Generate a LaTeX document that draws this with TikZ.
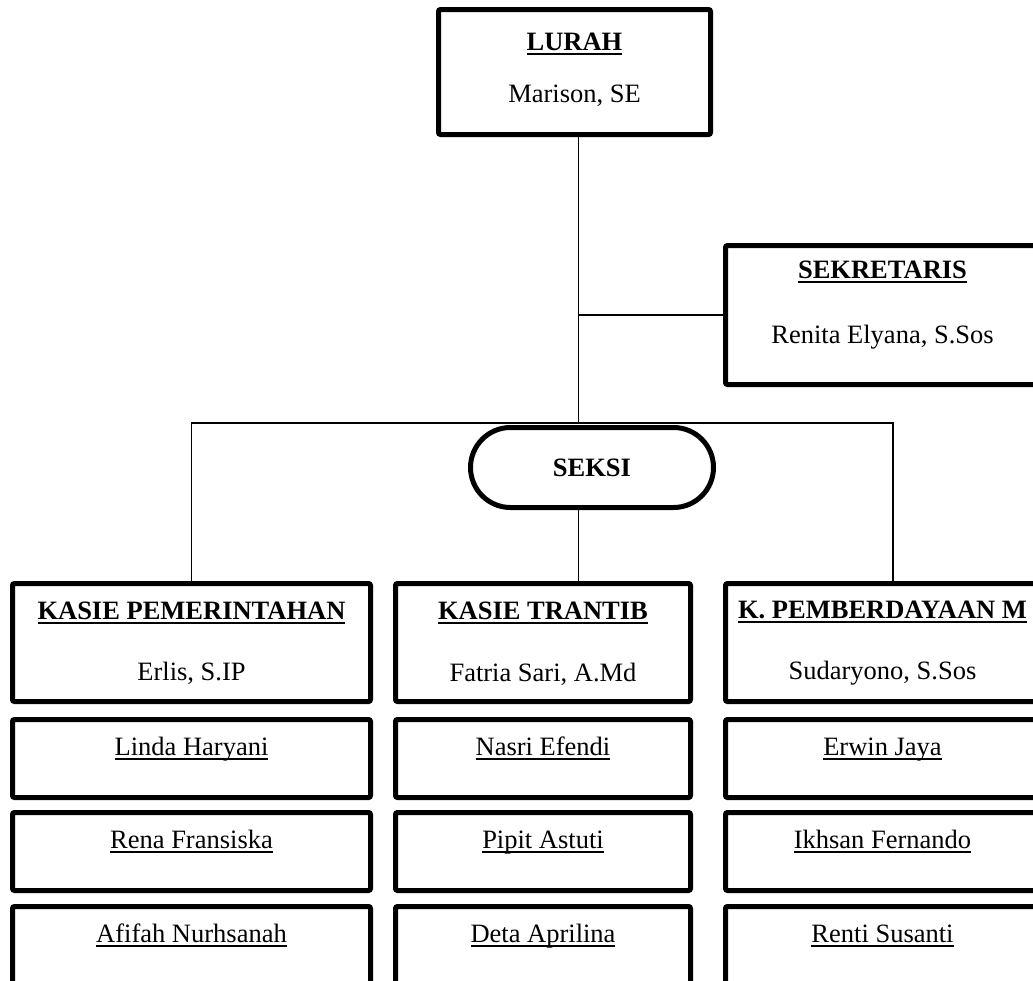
\documentclass[tikz,border=0pt]{standalone}
\usepackage{fontspec}
\setmainfont{Liberation Serif}
\newcommand{\ulined}[1]{\setbox0\hbox{#1}\rlap{\rule[-5pt]{\wd0}{2.5pt}}\box0}
\begin{document}
\begin{tikzpicture}[
  x=1pt, y=-1pt,
  box/.style={draw, line width=5pt, rounded corners=2pt, fill=white, inner sep=0pt},
  pill/.style={draw, line width=5pt, rounded corners=40pt, fill=white, inner sep=0pt, font=\fontsize{26.5}{30}\selectfont\bfseries},
  headtxt/.style={anchor=base, inner sep=0pt, font=\fontsize{26.5}{30}\selectfont\bfseries},
  persontxt/.style={anchor=base, inner sep=0pt, font=\fontsize{26.5}{30}\selectfont},
  link/.style={line width=1.5pt}
]
\clip (0,0) rectangle (1033,980);

% boxes
\node[box, minimum width=272pt, minimum height=125pt] (lurah) at (574.5,72) {};
\node[box, minimum width=314pt, minimum height=139pt] (sek) at (882.5,315) {};
\node[box, minimum width=358pt, minimum height=118pt] (kpem) at (191.5,642.5) {};
\node[box, minimum width=295pt, minimum height=118pt] (ktr) at (543,642.5) {};
\node[box, minimum width=314pt, minimum height=118pt] (kpm) at (882.5,642.5) {};
\node[box, minimum width=358pt, minimum height=78pt] (pem1) at (191.5,758.5) {};
\node[box, minimum width=358pt, minimum height=78pt] (pem2) at (191.5,851.5) {};
\node[box, minimum width=358pt, minimum height=78pt] (pem3) at (191.5,945.5) {};
\node[box, minimum width=295pt, minimum height=78pt] (tr1) at (543,758.5) {};
\node[box, minimum width=295pt, minimum height=78pt] (tr2) at (543,851.5) {};
\node[box, minimum width=295pt, minimum height=78pt] (tr3) at (543,945.5) {};
\node[box, minimum width=314pt, minimum height=78pt] (pm1) at (882.5,758.5) {};
\node[box, minimum width=314pt, minimum height=78pt] (pm2) at (882.5,851.5) {};
\node[box, minimum width=314pt, minimum height=78pt] (pm3) at (882.5,945.5) {};

% connectors
\coordinate (spine) at (578.5,423);
\coordinate (hr) at (893,423);
\draw[link] (lurah.south -| spine) -- (spine);
\draw[link] (spine |- sek.west) -- (sek.west);
\draw[link] (kpem.north) |- (hr) -- (hr |- kpm.north);
\node[pill, minimum width=243pt, minimum height=80pt] (seksi) at (592,467.5) {SEKSI};
\draw[link] (seksi.south -| spine) -- (spine |- ktr.north);

% texts
\node[headtxt] (lurah-t) at (574.5,50) {\ulined{LURAH}};
\node[persontxt] (lurah-n) at (574.5,102) {Marison, SE};
\node[headtxt] (sek-t) at (882.5,278) {\ulined{SEKRETARIS}};
\node[persontxt] (sek-n) at (882.5,343) {Renita Elyana, S.Sos};
\node[headtxt] (kpem-t) at (191.5,619) {\ulined{KASIE PEMERINTAHAN}};
\node[persontxt] (kpem-n) at (191.5,680) {Erlis, S.IP};
\node[headtxt] (ktr-t) at (543,619) {\ulined{KASIE TRANTIB}};
\node[persontxt] (ktr-n) at (543,681) {Fatria Sari, A.Md};
\node[headtxt] (kpm-t) at (882.5,618) {\ulined{K. PEMBERDAYAAN M}};
\node[persontxt] (kpm-n) at (882.5,679) {Sudaryono, S.Sos};
\node[persontxt] (pem1-n) at (191.5,755) {\ulined{Linda Haryani}};
\node[persontxt] (pem2-n) at (191.5,848) {\ulined{Rena Fransiska}};
\node[persontxt] (pem3-n) at (191.5,942) {\ulined{Afifah Nurhsanah}};
\node[persontxt] (tr1-n) at (543,755) {\ulined{Nasri Efendi}};
\node[persontxt] (tr2-n) at (543,848) {\ulined{Pipit Astuti}};
\node[persontxt] (tr3-n) at (543,942) {\ulined{Deta Aprilina}};
\node[persontxt] (pm1-n) at (882.5,755) {\ulined{Erwin Jaya}};
\node[persontxt] (pm2-n) at (882.5,848) {\ulined{Ikhsan Fernando}};
\node[persontxt] (pm3-n) at (882.5,942) {\ulined{Renti Susanti}};
\end{tikzpicture}
\end{document}
